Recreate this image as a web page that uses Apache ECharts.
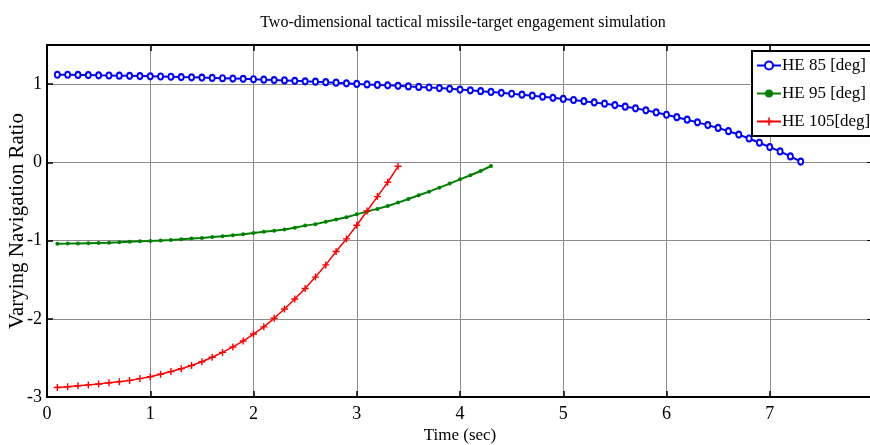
<!DOCTYPE html>
<html>
<head>
<meta charset="utf-8">
<script src="https://cdn.jsdelivr.net/npm/echarts@6/dist/echarts.min.js"></script>
<style>
  html, body { margin: 0; padding: 0; background: #fff; }
  #chart { width: 870px; height: 445px; }
</style>
</head>
<body>
<div id="chart"></div>
<script>
// time samples (sec)
var timeSec = [0.1,0.2,0.3,0.4,0.5,0.6,0.7,0.8,0.9,1.0,1.1,1.2,1.3,1.4,1.5,1.6,1.7,1.8,1.9,2.0,
  2.1,2.2,2.3,2.4,2.5,2.6,2.7,2.8,2.9,3.0,3.1,3.2,3.3,3.4,3.5,3.6,3.7,3.8,3.9,4.0,
  4.1,4.2,4.3,4.4,4.5,4.6,4.7,4.8,4.9,5.0,5.1,5.2,5.3,5.4,5.5,5.6,5.7,5.8,5.9,6.0,
  6.1,6.2,6.3,6.4,6.5,6.6,6.7,6.8,6.9,7.0,7.1,7.2,7.3];

// HE 85 [deg]
var he85 = [1.120,1.120,1.118,1.115,1.112,1.110,1.108,1.106,1.103,1.100,
  1.097,1.094,1.090,1.087,1.083,1.079,1.075,1.071,1.067,1.062,
  1.057,1.052,1.047,1.042,1.036,1.031,1.025,1.018,1.010,1.003,
  0.996,0.990,0.984,0.978,0.971,0.964,0.957,0.949,0.940,0.930,
  0.920,0.910,0.900,0.889,0.877,0.865,0.852,0.839,0.825,0.811,
  0.797,0.782,0.766,0.750,0.732,0.712,0.690,0.665,0.638,0.608,
  0.577,0.545,0.511,0.476,0.440,0.398,0.355,0.305,0.250,0.195,
  0.140,0.075,0.010];

// HE 95 [deg]
var he95 = [-1.040,-1.039,-1.037,-1.033,-1.030,-1.027,-1.022,-1.016,-1.010,-1.005,
  -0.999,-0.992,-0.984,-0.975,-0.966,-0.956,-0.945,-0.932,-0.918,-0.903,
  -0.888,-0.875,-0.858,-0.835,-0.809,-0.790,-0.760,-0.732,-0.702,-0.665,
  -0.627,-0.595,-0.558,-0.515,-0.468,-0.420,-0.375,-0.324,-0.272,-0.217,
  -0.165,-0.111,-0.047];

// HE 105[deg]
var he105 = [-2.878,-2.869,-2.857,-2.845,-2.833,-2.818,-2.804,-2.788,-2.765,-2.742,
  -2.710,-2.675,-2.638,-2.597,-2.550,-2.492,-2.430,-2.360,-2.285,-2.195,
  -2.103,-1.994,-1.875,-1.747,-1.612,-1.467,-1.311,-1.140,-0.979,-0.805,
  -0.622,-0.438,-0.255,-0.051];

var seriesNames = ['HE 85 [deg]', 'HE 95 [deg]', 'HE 105[deg]'];

function pairs(vals) {
  return vals.map(function (v, i) { return [timeSec[i], v]; });
}

var serif = "'Liberation Serif', 'Times New Roman', serif";
var plusIcon = 'path://M4,0h2v4h4v2h-4v4h-2v-4h-4v-2h4z';

var chart = echarts.init(document.getElementById('chart'));
var option = {
  animation: false,
  backgroundColor: '#fff',
  title: {
    text: 'Two-dimensional tactical missile-target engagement simulation',
    left: 458, top: 10, textAlign: 'center',
    textStyle: { fontFamily: serif, fontSize: 16, fontWeight: 'normal', color: '#000' }
  },
  grid: { left: 47, top: 45, width: 826, height: 352, containLabel: false, outerBoundsMode: 'none' },
  legend: {
    orient: 'vertical',
    left: 752, top: 51,
    data: seriesNames,
    backgroundColor: '#fff',
    borderColor: '#000', borderWidth: 2, borderRadius: 0,
    padding: [6, 10, 6, 4],
    itemGap: 11, itemWidth: 24, itemHeight: 10,
    textStyle: { fontFamily: serif, fontSize: 17, color: '#000', padding: [0, 0, 0, -4] }
  },
  xAxis: [{
    type: 'value', min: 0, max: 8, interval: 1,
    name: 'Time (sec)', nameLocation: 'middle', nameGap: 30, nameMoveOverlap: false,
    nameTextStyle: { fontFamily: serif, fontSize: 17, color: '#000' },
    axisLine: { onZero: false, lineStyle: { color: '#000', width: 2 } },
    axisTick: { inside: true, length: 6, lineStyle: { color: '#000', width: 1.5 } },
    axisLabel: { fontFamily: serif, fontSize: 18, color: '#000', margin: 8, showMaxLabel: false },
    splitLine: { show: true, lineStyle: { color: '#8c8c8c', width: 1 } }
  }, {
    type: 'value', min: 0, max: 8, interval: 1, position: 'top',
    axisLine: { onZero: false, lineStyle: { color: '#000', width: 2 } },
    axisTick: { inside: true, length: 6, lineStyle: { color: '#000', width: 1.5 } },
    axisLabel: { show: false },
    splitLine: { show: false }
  }],
  yAxis: [{
    type: 'value', min: -3, max: 1.5, interval: 1,
    name: 'Varying Navigation Ratio', nameLocation: 'middle', nameGap: 19, nameMoveOverlap: false,
    nameTextStyle: { fontFamily: serif, fontSize: 21, color: '#000' },
    axisLine: { onZero: false, lineStyle: { color: '#000', width: 2 } },
    axisTick: { inside: true, length: 6, lineStyle: { color: '#000', width: 1.5 } },
    axisLabel: { fontFamily: serif, fontSize: 18, color: '#000', margin: 5, showMaxLabel: false },
    splitLine: { show: true, lineStyle: { color: '#8c8c8c', width: 1 } }
  }, {
    type: 'value', min: -3, max: 1.5, interval: 1, position: 'right',
    axisLine: { onZero: false, lineStyle: { color: '#000', width: 2 } },
    axisTick: { inside: true, length: 6 },
    axisLabel: { show: false },
    splitLine: { show: false }
  }],
  series: [{
    name: seriesNames[0], type: 'line',
    data: pairs(he85),
    symbol: 'emptyCircle', symbolSize: [5, 6],
    itemStyle: { color: '#0000ff', borderWidth: 1.5 },
    lineStyle: { color: '#0000ff', width: 2 }
  }, {
    name: seriesNames[1], type: 'line',
    data: pairs(he95),
    symbol: 'circle', symbolSize: 4,
    itemStyle: { color: '#008000' },
    lineStyle: { color: '#008000', width: 2 }
  }, {
    name: seriesNames[2], type: 'line',
    data: pairs(he105),
    symbol: plusIcon, symbolSize: 7,
    itemStyle: { color: '#ff0000' },
    lineStyle: { color: '#ff0000', width: 1.5 }
  }]
};
chart.setOption(option);
</script>
</body>
</html>
